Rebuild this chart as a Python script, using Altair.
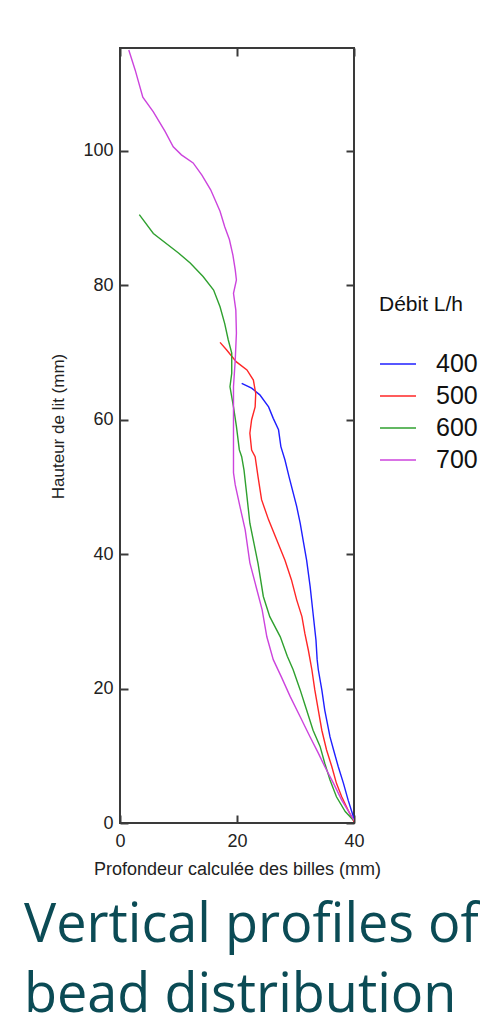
import altair as alt
import pandas as pd

# ---------------- data ----------------
debits = ["400", "500", "600", "700"]
line_colors = ["#1f1fff", "#ff2626", "#2fa02f", "#cc44dd"]
x_ticks = [0, 20, 40]
y_ticks = [0, 20, 40, 60, 80, 100]

x_400 = [20.8, 22.5, 23.9, 25.4, 26.2, 27.1, 27.5, 28.2, 28.9, 30.2, 30.8, 31.3,
         31.9, 32.5, 33.0, 33.5, 33.7, 33.9, 34.5, 35.0, 35.9, 36.5, 37.3, 38.2,
         39.0, 39.8, 40.0]
y_400 = [65.4, 64.7, 63.7, 61.9, 60.2, 58.5, 56.0, 54.0, 51.5, 47.1, 44.6, 42.1,
         39.1, 35.2, 31.2, 27.2, 24.3, 22.8, 19.8, 16.8, 12.8, 10.9, 8.4, 5.9,
         3.4, 1.2, 0.4]

x_500 = [17.1, 18.2, 19.9, 21.7, 22.8, 23.2, 23.1, 22.5, 22.2, 22.5, 23.1, 23.6,
         24.2, 25.4, 26.8, 28.2, 29.3, 30.2, 31.1, 31.6, 32.2, 32.8, 33.3, 33.9,
         34.5, 35.3, 36.2, 37.0, 37.9, 39.0, 40.0]
y_500 = [71.5, 70.4, 68.6, 67.4, 65.9, 63.9, 61.9, 60.0, 58.0, 55.5, 54.5, 51.5,
         48.1, 45.1, 42.1, 39.1, 36.2, 33.2, 30.7, 28.2, 25.7, 22.8, 19.8, 16.8,
         13.8, 10.9, 8.4, 5.9, 3.9, 1.9, 0.2]

x_600 = [3.3, 5.7, 10.0, 12.0, 14.2, 16.0, 17.1, 17.9, 18.5, 19.1, 19.1, 18.8,
         19.4, 19.9, 20.4, 20.8, 21.2, 21.7, 22.2, 22.9, 23.6, 24.5, 25.6, 27.4,
         28.6, 29.6, 30.8, 31.9, 33.0, 34.2, 35.0, 35.9, 37.0, 38.5, 39.9]
y_600 = [90.5, 87.7, 84.8, 83.3, 81.3, 79.3, 76.8, 74.3, 71.9, 69.9, 66.9, 64.9,
         61.9, 59.0, 55.5, 54.5, 52.5, 48.6, 44.6, 41.6, 38.6, 33.7, 30.7, 27.7,
         24.8, 22.8, 19.8, 16.8, 13.8, 11.4, 8.9, 6.4, 3.9, 1.7, 0.4]

x_700 = [1.5, 2.6, 3.9, 5.7, 7.7, 9.1, 10.5, 12.5, 14.0, 15.5, 17.1, 17.9, 18.7,
         19.3, 19.7, 19.9, 19.4, 19.8, 19.9, 19.7, 19.4, 19.4, 19.4, 19.7, 20.5,
         21.4, 22.2, 23.4, 24.3, 25.1, 26.2, 27.6, 29.1, 30.8, 32.5, 33.9, 35.0,
         36.5, 37.9, 39.3, 40.0]
y_700 = [115.0, 112.0, 108.0, 105.8, 102.9, 100.6, 99.4, 98.2, 96.4, 94.2, 91.0,
         88.7, 86.8, 84.5, 82.3, 80.8, 78.8, 76.3, 72.9, 68.9, 64.9, 59.0, 52.1,
         50.3, 47.1, 43.6, 38.7, 34.7, 31.7, 27.7, 24.3, 21.7, 18.8, 15.8, 12.8,
         10.4, 8.4, 5.9, 3.4, 1.4, 0.4]

title_lines = ["Vertical profiles of", "bead distribution"]
x_title = "Profondeur calculée des billes (mm)"
y_title = "Hauteur de lit (mm)"
legend_title = "Débit L/h"

rows = []
for d, xs_, ys_ in zip(debits, [x_400, x_500, x_600, x_700],
                       [y_400, y_500, y_600, y_700]):
    for i, (a, b) in enumerate(zip(xs_, ys_)):
        rows.append({"debit": d, "i": i, "x": a, "y": b})
df = pd.DataFrame(rows)

# ---------------- chart ----------------
W, H = 234, 775
FONT = "Liberation Sans"
FRAME = "#3a3a3a"

xscale = alt.Scale(domain=[0, 40], nice=False, zero=False)
yscale = alt.Scale(domain=[0, 115.3], nice=False, zero=False)

label_axis = dict(ticks=False, tickSize=0, domain=False, grid=False,
                  labelFont=FONT, labelFontSize=18, labelColor="#222222",
                  titleFont=FONT, titleFontWeight="normal", titleColor="#222222",
                  labelFlush=False)

lines = alt.Chart(df).mark_line(strokeWidth=1.4, clip=True).encode(
    x=alt.X("x:Q", scale=xscale, title=x_title,
            axis=alt.Axis(orient="bottom", values=x_ticks, labelPadding=9,
                          titlePadding=10, titleFontSize=18, **label_axis)),
    y=alt.Y("y:Q", scale=yscale, title=y_title,
            axis=alt.Axis(orient="left", values=y_ticks, labelPadding=7,
                          titlePadding=15, titleFontSize=17, titleY=378,
                          **label_axis)),
    color=alt.Color("debit:N", scale=alt.Scale(domain=debits, range=line_colors),
                    legend=alt.Legend(title=legend_title, orient="none",
                                      legendX=259, legendY=246,
                                      symbolType="stroke", symbolSize=1296,
                                      symbolStrokeWidth=1.6, rowPadding=0,
                                      labelOffset=19, padding=0,
                                      titlePadding=30, titleFont=FONT,
                                      titleFontSize=21, titleFontWeight="normal",
                                      titleColor="#111111", labelFont=FONT,
                                      labelFontSize=25, labelColor="#111111")),
    order="i:Q",
)

tick_axis = dict(labels=False, domain=False, grid=False, ticks=True,
                 tickSize=8, tickWidth=2, tickColor=FRAME)

ghost = alt.Chart(df).mark_line(strokeOpacity=0)

ticks_a = ghost.encode(
    x=alt.X("x:Q", scale=xscale, title=None,
            axis=alt.Axis(orient="top", offset=-H, values=x_ticks, **tick_axis)),
    y=alt.Y("y:Q", scale=yscale, title=None,
            axis=alt.Axis(orient="right", offset=-W, values=y_ticks, **tick_axis)),
    detail="debit:N",
)
ticks_b = ghost.encode(
    x=alt.X("x:Q", scale=xscale, title=None,
            axis=alt.Axis(orient="bottom", offset=-H, values=x_ticks, **tick_axis)),
    y=alt.Y("y:Q", scale=yscale, title=None,
            axis=alt.Axis(orient="left", offset=-W, values=y_ticks, **tick_axis)),
    detail="debit:N",
)

chart = alt.layer(lines, ticks_a, ticks_b).resolve_axis(
    x="independent", y="independent"
).properties(
    width=W,
    height=H,
    autosize=alt.AutoSizeParams(type="none"),
    padding={"left": 112, "top": 40, "right": 126, "bottom": 193},
    background="white",
    title=alt.TitleParams(
        text=title_lines, orient="bottom", anchor="start", frame="group",
        dx=-96, offset=64, baseline="alphabetic", font="Open Sans", fontSize=54,
        fontWeight="normal", color="#0b4b55", lineHeight=70,
    ),
).configure_view(stroke=FRAME, strokeWidth=2, fill="white")

chart.save("out.html", embed_options={"renderer": "svg", "actions": False})
